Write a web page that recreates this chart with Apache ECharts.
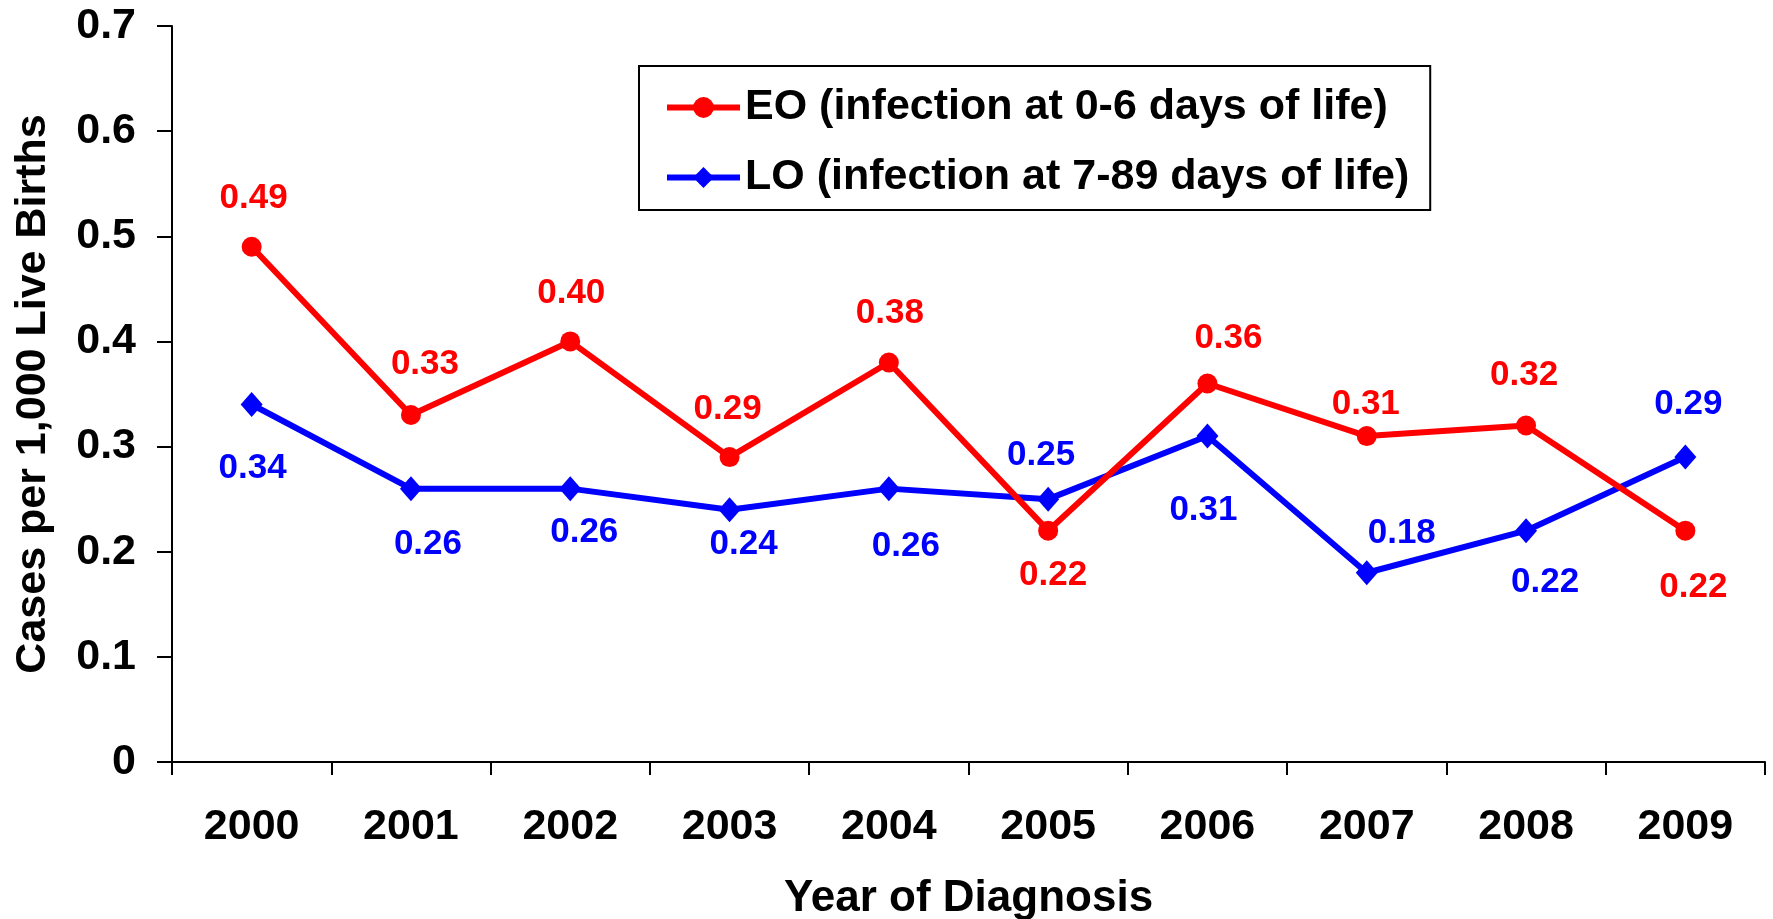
<!DOCTYPE html>
<html>
<head>
<meta charset="utf-8">
<script src="https://cdn.jsdelivr.net/npm/echarts@6/dist/echarts.min.js"></script>
<style>
  html, body { margin: 0; padding: 0; background: #ffffff; }
  #chart { width: 1773px; height: 919px; }
</style>
</head>
<body>
<div id="chart"></div>
<script>
// ---- data ----
const years = ['2000', '2001', '2002', '2003', '2004', '2005', '2006', '2007', '2008', '2009'];
const eoValues = [0.49, 0.33, 0.40, 0.29, 0.38, 0.22, 0.36, 0.31, 0.32, 0.22];
const loValues = [0.34, 0.26, 0.26, 0.24, 0.26, 0.25, 0.31, 0.18, 0.22, 0.29];
const yTickLabels = ['0', '0.1', '0.2', '0.3', '0.4', '0.5', '0.6', '0.7'];
const eoName = 'EO (infection at 0-6 days of life)';
const loName = 'LO (infection at 7-89 days of life)';
const yTitle = 'Cases per 1,000 Live Births';
const xTitle = 'Year of Diagnosis';

// ---- label placement (styling, px offsets from each marker) ----
const eoLabelOffsets = [[2, -48], [14, -51], [1, -48], [-2, -48], [1, -49], [5, 45], [21, -45], [-1, -32], [-2, -50], [8, 57]];
const loLabelOffsets = [[1, 64], [17, 56], [14, 44], [14, 35], [17, 58], [-7, -44], [-4, 74], [35, -39], [19, 52], [3, -53]];

const FONT = '"Liberation Sans", Arial, Helvetica, sans-serif';
const RED = '#ff0000';
const BLUE = '#0000ff';

function buildData(values, offsets, color) {
  return values.map((v, i) => ({
    value: v,
    label: {
      show: true,
      position: 'inside',
      offset: offsets[i],
      formatter: v.toFixed(2),
      color: color,
      fontFamily: FONT,
      fontWeight: 'bold',
      fontSize: 35
    }
  }));
}

const chart = echarts.init(document.getElementById('chart'), null, { renderer: 'canvas' });
chart.setOption({
  animation: false,
  backgroundColor: '#ffffff',
  textStyle: { fontFamily: FONT },
  grid: { left: 172, right: 8, top: 26, bottom: 157, containLabel: false, outerBoundsMode: 'none' },
  legend: {
    orient: 'vertical',
    left: 639,
    top: 66,
    padding: [20, 21, 11, 25],
    itemWidth: 73,
    itemHeight: 26,
    itemGap: 27,
    backgroundColor: '#ffffff',
    borderColor: '#000000',
    borderWidth: 2,
    borderRadius: 0,
    lineStyle: { width: 6 },
    textStyle: { color: '#000000', fontFamily: FONT, fontWeight: 'bold', fontSize: 43, lineHeight: 43 },
    data: [eoName, loName]
  },
  xAxis: {
    type: 'category',
    data: years,
    boundaryGap: true,
    name: xTitle,
    nameLocation: 'middle',
    nameGap: 115,
    nameTextStyle: { color: '#000000', fontFamily: FONT, fontWeight: 'bold', fontSize: 44, lineHeight: 44 },
    axisLine: { show: true, lineStyle: { color: '#000000', width: 2 } },
    axisTick: { show: true, alignWithLabel: false, length: 13, lineStyle: { color: '#000000', width: 2 } },
    axisLabel: { color: '#000000', fontFamily: FONT, fontWeight: 'bold', fontSize: 43, lineHeight: 43, margin: 44, interval: 0 },
    splitLine: { show: false }
  },
  yAxis: {
    type: 'value',
    min: 0,
    max: 0.7,
    interval: 0.1,
    name: yTitle,
    nameLocation: 'middle',
    nameGap: 117,
    nameTextStyle: { color: '#000000', fontFamily: FONT, fontWeight: 'bold', fontSize: 43, lineHeight: 43 },
    axisLine: { show: true, lineStyle: { color: '#000000', width: 2 } },
    axisTick: { show: true, length: 15, lineStyle: { color: '#000000', width: 2 } },
    axisLabel: {
      color: '#000000', fontFamily: FONT, fontWeight: 'bold', fontSize: 43, margin: 36,
      formatter: (val) => yTickLabels[Math.round(val * 10)]
    },
    splitLine: { show: false }
  },
  series: [
    {
      name: eoName,
      type: 'line',
      data: buildData(eoValues, eoLabelOffsets, RED),
      symbol: 'circle',
      symbolSize: 20,
      showAllSymbol: true,
      lineStyle: { color: RED, width: 6 },
      itemStyle: { color: RED },
      z: 3
    },
    {
      name: loName,
      type: 'line',
      data: buildData(loValues, loLabelOffsets, BLUE),
      symbol: 'diamond',
      symbolSize: [22, 25],
      showAllSymbol: true,
      lineStyle: { color: BLUE, width: 6 },
      itemStyle: { color: BLUE },
      z: 2
    }
  ]
});
</script>
</body>
</html>
